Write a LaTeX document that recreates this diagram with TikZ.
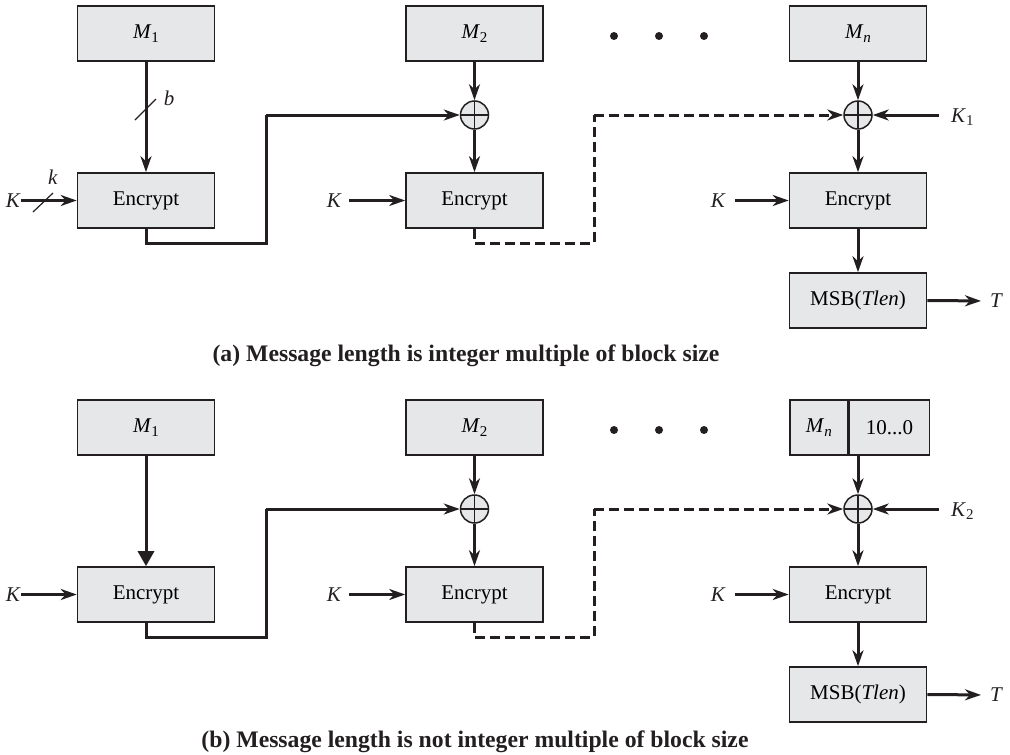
\documentclass[tikz,border=0pt]{standalone}
\usepackage{fontspec}
\setmainfont{Liberation Serif}
\usetikzlibrary{arrows.meta}
\definecolor{lc}{HTML}{231F20}
\definecolor{bg}{HTML}{E6E7E8}
\newcommand{\mysub}[2]{\textit{#1}\raisebox{-0.35ex}{\fontsize{15}{15}\selectfont #2}}
\begin{document}
\begin{tikzpicture}[x=1pt,y=-1pt,
  blk/.style={draw=lc, fill=bg, line width=1.6pt, minimum width=137pt, minimum height=55pt, inner sep=0pt, font=\fontsize{21}{25}\selectfont},
  xorc/.style={circle, draw=lc, fill=bg, line width=1.5pt, minimum size=28pt, inner sep=0pt,
    path picture={\draw[lc,line width=1.2pt] (path picture bounding box.north) -- (path picture bounding box.south) (path picture bounding box.west) -- (path picture bounding box.east);}},
  lbl/.style={font=\fontsize{21}{25}\selectfont, inner sep=0pt, text=lc},
  conn/.style={draw=lc, line width=3pt, -{Stealth[length=16pt,width=11pt,inset=5pt]}},
  conntri/.style={draw=lc, line width=3pt, -{Triangle[length=15pt,width=16pt]}},
  plain/.style={draw=lc, line width=3pt},
  dconn/.style={conn, dash pattern=on 10pt off 5pt},
  dplain/.style={plain, dash pattern=on 10pt off 5pt},
  tick/.style={draw=lc, line width=1.2pt},
  captxt/.style={font=\fontsize{23.7}{28}\selectfont\bfseries, inner sep=0pt, text=lc, anchor=base}
]
\useasboundingbox (0,0) rectangle (1010,755);

% ===== (a) =====
\node[blk] (m1) at (146,33.5) {\mysub{M}{1}};
\node[blk] (e1) at (146,200.5) {Encrypt};
\node[blk] (m2) at (474.5,33.5) {\mysub{M}{2}};
\node[xorc] (x2) at (474.5,115) {};
\node[blk] (e2) at (474.5,200.5) {Encrypt};
\node[blk] (mn) at (858,33.5) {\mysub{M}{\textit{n}}};
\node[xorc] (xn) at (858,115) {};
\node[blk] (en) at (858,200.5) {Encrypt};
\node[blk] (msb) at (858,300.5) {MSB(\textit{Tlen})};

\fill[lc] (614,36) circle (4pt) (659,36) circle (4pt) (704,36) circle (4pt);

\draw[conn] (m1) -- (e1);
\draw[tick] (135,120) -- (156,99);
\node[lbl] (lb) at (169,98) {\textit{b}};

\node[lbl,anchor=east] (ka1) at (21,200.5) {\textit{K}};
\draw[conn] (ka1.east) -- (e1.west);
\draw[tick] (33,212) -- (53,193);
\node[lbl] (lk) at (53,177) {\textit{k}};

\draw[plain] (e1.south) -- (146,243) coordinate (c1) -- (266,243) coordinate (c2) -- (266,115) coordinate (c3);
\draw[conn] (c3) -- (x2.west);
\draw[conn] (m2) -- (x2);
\draw[conn] (x2) -- (e2);
\node[lbl,anchor=east] (ka2) at (342,200.5) {\textit{K}};
\draw[conn,shorten <=7pt] (ka2.east) -- (e2.west);

\draw[dplain] (e2.south) -- (474.5,243) coordinate (d1) -- (594,243) coordinate (d2) -- (594,115) coordinate (d3);
\draw[dconn] (d3) -- (xn.west);
\draw[conn] (mn) -- (xn);
\draw[conn] (xn) -- (en);
\node[lbl,anchor=west] (kk1) at (951,117) {\mysub{K}{1}};
\draw[conn,shorten <=12pt] (xn.east -| kk1.west) -- (xn.east);
\node[lbl,anchor=east] (kan) at (726,200.5) {\textit{K}};
\draw[conn,shorten <=9pt] (kan.east) -- (en.west);
\draw[conn] (en) -- (msb);
\node[lbl,anchor=west] (ta) at (990,301) {\textit{T}};
\draw[conn,shorten >=9pt] (msb.east) -- (ta.west);

\node[captxt] (capa) at (466,361) {(a) Message length is integer multiple of block size};

% ===== (b) =====
\begin{scope}[yshift=-394pt]
\node[blk] (bm1) at (146,33.5) {\mysub{M}{1}};
\node[blk] (be1) at (146,200.5) {Encrypt};
\node[blk] (bm2) at (474.5,33.5) {\mysub{M}{2}};
\node[xorc] (bx2) at (474.5,115) {};
\node[blk] (be2) at (474.5,200.5) {Encrypt};
\node[blk,minimum width=58pt,anchor=west] (bmnl) at (789,33.5) {\mysub{M}{\textit{n}}};
\node[blk,minimum width=80pt,anchor=west] (bmnr) at (bmnl.east) {10...0};
\node[xorc] (bxn) at (858,115) {};
\node[blk] (ben) at (858,200.5) {Encrypt};
\node[blk] (bmsb) at (858,300.5) {MSB(\textit{Tlen})};

\fill[lc] (614,36) circle (4pt) (659,36) circle (4pt) (704,36) circle (4pt);

\draw[conntri] (bm1) -- (be1);
\node[lbl,anchor=east] (bka1) at (21,200.5) {\textit{K}};
\draw[conn] (bka1.east) -- (be1.west);

\draw[plain] (be1.south) -- (146,243) coordinate (bc1) -- (266,243) coordinate (bc2) -- (266,115) coordinate (bc3);
\draw[conn] (bc3) -- (bx2.west);
\draw[conn] (bm2) -- (bx2);
\draw[conn] (bx2) -- (be2);
\node[lbl,anchor=east] (bka2) at (342,200.5) {\textit{K}};
\draw[conn,shorten <=7pt] (bka2.east) -- (be2.west);

\draw[dplain] (be2.south) -- (474.5,243) coordinate (bd1) -- (594,243) coordinate (bd2) -- (594,115) coordinate (bd3);
\draw[dconn] (bd3) -- (bxn.west);
\draw[conn] (bxn |- bmnr.south) -- (bxn);
\draw[conn] (bxn) -- (ben);
\node[lbl,anchor=west] (bkk2) at (951,117) {\mysub{K}{2}};
\draw[conn,shorten <=12pt] (bxn.east -| bkk2.west) -- (bxn.east);
\node[lbl,anchor=east] (bkan) at (726,200.5) {\textit{K}};
\draw[conn,shorten <=9pt] (bkan.east) -- (ben.west);
\draw[conn] (ben) -- (bmsb);
\node[lbl,anchor=west] (tb) at (990,301) {\textit{T}};
\draw[conn,shorten >=9pt] (bmsb.east) -- (tb.west);
\end{scope}

\node[captxt] (capb) at (475,747) {(b) Message length is not integer multiple of block size};
\end{tikzpicture}
\end{document}
